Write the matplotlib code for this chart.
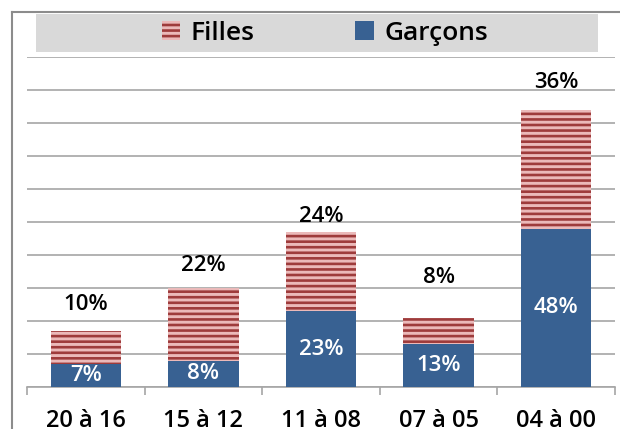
import matplotlib.pyplot as plt
from matplotlib.patches import Patch, Rectangle
from matplotlib.lines import Line2D

categories = ["20 à 16", "15 à 12", "11 à 08", "07 à 05", "04 à 00"]
garcons = [7, 8, 23, 13, 48]
filles = [10, 22, 24, 8, 36]

blue = "#386192"
pink = "#EBB9B9"
darkred = "#9E3B3B"
gray = "#A6A6A6"

plt.rcParams["font.family"] = ["Open Sans", "DejaVu Sans"]
plt.rcParams["font.weight"] = "semibold"
plt.rcParams["hatch.linewidth"] = 1.9
plt.rcParams["hatch.color"] = darkred

fig = plt.figure(figsize=(6.2, 4.29), dpi=100)
ax = fig.add_axes([27 / 620, 1 - 387 / 429, 588 / 620, 330 / 429])

x = list(range(len(categories)))
ax.bar(x, garcons, width=0.6, color=blue, linewidth=0, zorder=3)
ax.bar(x, filles, bottom=garcons, width=0.6, color=pink, edgecolor=darkred,
       hatch="---", linewidth=0, zorder=3)

# labels: boys inside, girls above the bar (offsets in points, as in the original)
offsets = [19, 16, 11, 29, 20]
for i in x:
    ax.text(i, garcons[i] / 2, f"{garcons[i]}%", color="white", ha="center",
            va="center", fontsize=16, zorder=4)
    ax.annotate(f"{filles[i]}%", (i, garcons[i] + filles[i]), xytext=(0, offsets[i]),
                textcoords="offset points", ha="center", va="center", fontsize=16)

ax.set_xlim(-0.5, len(categories) - 0.5)
ax.set_ylim(0, 100)
ax.set_yticks(range(0, 101, 10))
ax.yaxis.grid(True, color=gray, linewidth=1.2, zorder=0)
ax.tick_params(axis="y", length=0, labelleft=False)
for s in ["top", "right", "left"]:
    ax.spines[s].set_visible(False)
ax.spines["bottom"].set_color(gray)
ax.spines["bottom"].set_linewidth(1.2)

ax.set_xticks(x)
ax.set_xticklabels(categories, fontsize=17)
ax.tick_params(axis="x", length=0, pad=16)
ax.set_xticks([i - 0.5 for i in range(len(categories) + 1)], minor=True)
ax.tick_params(axis="x", which="minor", length=6, color=gray, width=1.2, direction="out")

# outer chart frame (left and top edges)
fig.add_artist(Line2D([12 / 620, 12 / 620], [0, 1 - 12 / 429], color="#8C8C8C", lw=1.5))
fig.add_artist(Line2D([12 / 620, 1], [1 - 12 / 429, 1 - 12 / 429], color="#8C8C8C", lw=1.5))

# legend band
fig.add_artist(Rectangle((36 / 620, 1 - 52 / 429), 562 / 620, 38 / 429,
                         transform=fig.transFigure, facecolor="#D9D9D9", edgecolor="none"))
handles = [Patch(facecolor=pink, edgecolor=darkred, hatch="---", linewidth=0, label="Filles"),
           Patch(facecolor=blue, linewidth=0, label="Garçons")]
fig.legend(handles=handles, loc="center", bbox_to_anchor=(325 / 620, 1 - 33 / 429),
           ncol=2, frameon=False, fontsize=19, handlelength=0.7, handleheight=0.7,
           handletextpad=0.4, columnspacing=3.8)

fig.savefig("out.png", dpi=100)
